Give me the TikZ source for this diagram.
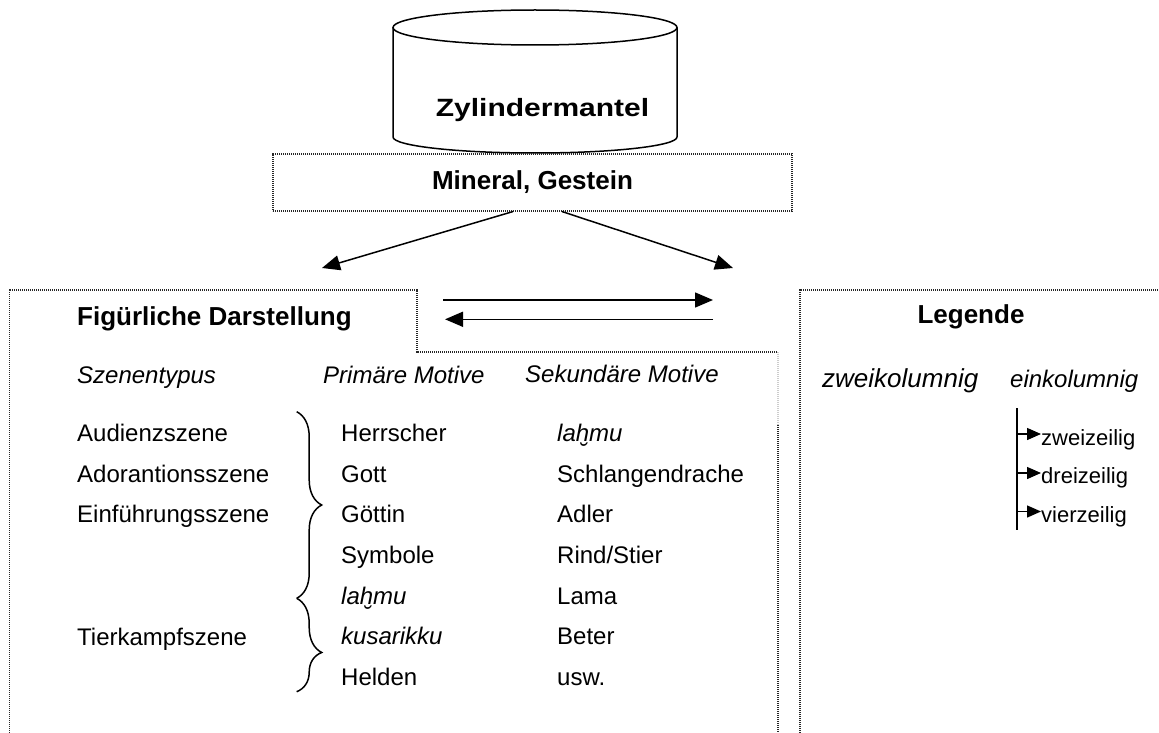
\documentclass[tikz,border=0pt]{standalone}
\usepackage{fontspec}
\setmainfont{Liberation Sans}
\usetikzlibrary{arrows.meta,decorations.pathreplacing,calc}

% h with a breve below
\newcommand{\hbrevebelow}{{\ooalign{h\cr\hidewidth\smash{\raisebox{-0.8em}{\char"02D8}}\hidewidth\cr}}}

\begin{document}
\begin{tikzpicture}[x=1pt,y=-1pt,
  frame/.style={draw=black!85,line width=1.1pt,dash pattern=on 1.1pt off 0.9pt},
  faintframe/.style={draw=black!20,line width=1.1pt,dash pattern=on 1.1pt off 0.9pt},
  txt/.style={inner sep=0pt,anchor=base west,font=\fontsize{24}{28}\selectfont},
  itxt/.style={inner sep=0pt,anchor=base west,font=\fontsize{24}{28}\selectfont\itshape},
  head/.style={inner sep=0pt,anchor=base west,font=\fontsize{26}{30}\selectfont\bfseries},
  legitem/.style={inner sep=0pt,anchor=base west,font=\fontsize{22}{26}\selectfont},
  arr/.style={line width=1.5pt,-{Triangle[length=18pt,width=15pt]}},
  legarr/.style={line width=1.4pt,-{Triangle[length=14pt,width=12pt]}},
  bracestyle/.style={line width=1.5pt,decorate,decoration={brace,amplitude=25pt}},
  solid1/.style={line width=1.5pt}
]
\useasboundingbox (0,0) rectangle (1159,733);
\clip (0,0) rectangle (1159,733);

% cylinder
\draw[solid1] (535,27.5) ellipse [x radius=142, y radius=17.5];
\draw[solid1] (393,27.5) -- (393,137) arc[start angle=180,end angle=0,x radius=142,y radius=16] -- (677,27.5);
\node[inner sep=0pt,anchor=base,xscale=1.2,font=\fontsize{25}{29}\selectfont\bfseries] (zyl) at (542.5,117) {Zylindermantel};

% material box
\node[frame,minimum width=519pt,minimum height=57pt,inner sep=0pt,
      font=\fontsize{26}{30}\selectfont\bfseries] (mineral) at (532.5,182.5) {Mineral, Gestein};

\coordinate (ltarget) at (322,268);
\coordinate (rtarget) at (733,268);
\draw[arr] ($(mineral.south)+(-19.5,0)$) -- (ltarget);
\draw[arr] ($(mineral.south)+(29.5,0)$) -- (rtarget);

% main frame
\draw[frame] (9.3,745) -- (9.3,290) -- (417,290) -- (417,352) -- (778,352);
\draw[faintframe] (778,352) -- (778,425);
\draw[frame] (778,425) -- (778,745);

% legend frame
\draw[frame] (800,745) -- (800,290) -- (1170,290);

% exchange arrows
\coordinate (ea1) at (443,300);
\coordinate (eb1) at (713,300);
\coordinate (ea2) at (713,319.3);
\coordinate (eb2) at (445,319.3);
\draw[arr] (ea1) -- (eb1);
\draw[arr] (ea2) -- (eb2);

% headings
\node[head] (fig) at (77,325) {Figürliche Darstellung};
\node[head,anchor=base] (leg) at (971,323) {Legende};

% column headings
\node[itxt] (h1) at (77,383) {Szenentypus};
\node[itxt] (h2) at (323,383) {Primäre Motive};
\node[itxt] (h3) at (525,382) {Sekundäre Motive};

% scene types
\node[txt] (s1) at (77,441.7) {Audienzszene};
\node[txt] (s2) at (77,482.3) {Adorantionsszene};
\node[txt] (s3) at (77,522.8) {Einführungsszene};
\node[txt] (s4) at (77,645) {Tierkampfszene};

% primary motifs
\node[txt]  (p1) at (341,441.7) {Herrscher};
\node[txt]  (p2) at (341,482.3) {Gott};
\node[txt]  (p3) at (341,522.8) {Göttin};
\node[txt]  (p4) at (341,563.4) {Symbole};
\node[itxt] (p5) at (341,604) {la\hbrevebelow mu};
\node[itxt] (p6) at (341,644.5) {kusarikku};
\node[txt]  (p7) at (341,685) {Helden};

% secondary motifs
\node[itxt] (q1) at (557,441.7) {la\hbrevebelow mu};
\node[txt]  (q2) at (557,482.3) {Schlangendrache};
\node[txt]  (q3) at (557,522.8) {Adler};
\node[txt]  (q4) at (557,563.4) {Rind/Stier};
\node[txt]  (q5) at (557,604) {Lama};
\node[txt]  (q6) at (557,644.5) {Beter};
\node[txt]  (q7) at (557,685) {usw.};

% braces
\draw[bracestyle] (296.7,411.7) -- (296.7,598.3);
\draw[bracestyle,decoration={brace,amplitude=25pt,aspect=0.58}] (296.7,598.3) -- (296.7,691.7);

% legend contents
\node[inner sep=0pt,anchor=base west,font=\fontsize{26}{30}\selectfont\itshape] (zk) at (822,387) {zweikolumnig};
\node[itxt] (ek) at (1010,387) {einkolumnig};

\coordinate (bartop) at (1017,408);
\coordinate (barbot) at (1017,530);
\draw[line width=1.4pt] (bartop) -- (barbot);

\node[legitem] (l1) at (1041,445) {zweizeilig};
\node[legitem] (l2) at (1041,483.5) {dreizeilig};
\node[legitem] (l3) at (1041,522) {vierzeilig};

\coordinate (b1) at (1017,434);
\coordinate (b2) at (1017,473);
\coordinate (b3) at (1017,511.5);
\draw[legarr] (b1) -- (b1 -| l1.west);
\draw[legarr] (b2) -- (b2 -| l2.west);
\draw[legarr] (b3) -- (b3 -| l3.west);
\end{tikzpicture}
\end{document}
